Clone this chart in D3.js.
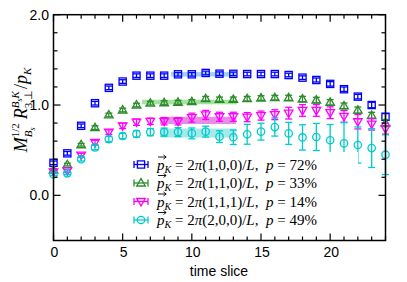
<!DOCTYPE html>
<html>
<head>
<meta charset="utf-8">
<script src="https://cdn.jsdelivr.net/npm/d3@7"></script>
<style>
  body { margin: 0; background: #fff; }
  svg { display: block; }
</style>
</head>
<body>
<div id="chart"></div>
<script>
var svgWidth = 407;
var svgHeight = 282;

// time slices
var tSlices = d3.range(0, 25);

// series values
var blueVals = [0.36, 0.465, 0.77, 1.02, 1.19, 1.26, 1.325, 1.325, 1.325, 1.34, 1.34, 1.355, 1.347, 1.345, 1.343, 1.343, 1.343, 1.332, 1.303, 1.277, 1.234, 1.175, 1.093, 1.0, 0.87];
var blueErr = [0.02, 0.02, 0.02, 0.02, 0.02, 0.02, 0.02, 0.02, 0.02, 0.02, 0.02, 0.02, 0.02, 0.02, 0.02, 0.02, 0.02, 0.02, 0.02, 0.022, 0.025, 0.025, 0.025, 0.03, 0.035];

var greenVals = [0.28, 0.34, 0.56, 0.75, 0.89, 0.945, 1.0, 1.02, 1.025, 1.03, 1.037, 1.07, 1.063, 1.063, 1.07, 1.078, 1.082, 1.08, 1.066, 1.055, 1.03, 0.99, 0.943, 0.884, 0.80];
var greenErr = [0.015, 0.015, 0.015, 0.02, 0.02, 0.02, 0.02, 0.02, 0.022, 0.022, 0.022, 0.025, 0.025, 0.025, 0.025, 0.025, 0.025, 0.028, 0.03, 0.03, 0.03, 0.032, 0.035, 0.035, 0.04];

var magentaVals = [0.26, 0.27, 0.446, 0.585, 0.70, 0.77, 0.81, 0.82, 0.82, 0.82, 0.86, 0.89, 0.87, 0.87, 0.866, 0.883, 0.893, 0.91, 0.94, 0.94, 0.915, 0.874, 0.815, 0.788, 0.738];
var magentaErr = [0.015, 0.015, 0.02, 0.025, 0.025, 0.03, 0.035, 0.035, 0.04, 0.04, 0.05, 0.05, 0.05, 0.05, 0.05, 0.05, 0.055, 0.065, 0.065, 0.065, 0.065, 0.065, 0.08, 0.065, 0.06];

var cyanVals = [0.232, 0.244, 0.40, 0.53, 0.623, 0.657, 0.68, 0.70, 0.70, 0.70, 0.686, 0.705, 0.65, 0.643, 0.676, 0.705, 0.756, 0.686, 0.641, 0.646, 0.61, 0.575, 0.557, 0.523, 0.45];
var cyanErr = [0.015, 0.015, 0.02, 0.025, 0.03, 0.03, 0.035, 0.04, 0.045, 0.05, 0.06, 0.06, 0.065, 0.08, 0.11, 0.093, 0.1, 0.122, 0.14, 0.15, 0.174, 0.23, 0.2, 0.215, 0.22];

// fit bands: [tStart, tEnd, centre, halfWidth]
var blueBand = [8.5, 13.2, 1.34, 0.025];
var greenBand = [6.4, 13.25, 1.033, 0.025];
var magentaBand = [7.7, 13.2, 0.83, 0.04];
var cyanBand = [7.7, 13.2, 0.69, 0.05];

var legendMom = ["(1,0,0)", "(1,1,0)", "(1,1,1)", "(2,0,0)"];
var legendP = ["72%", "33%", "14%", "49%"];

var xTicks = [0, 5, 10, 15, 20];
var yTicks = [0, 1, 2];

var series = [
    {vals: blueVals, err: blueErr, band: blueBand, color: "#0000ff", bandColor: "#8cc4ec", sym: "square"},
    {vals: greenVals, err: greenErr, band: greenBand, color: "#2b8c2b", bandColor: "#8edc86", sym: "up"},
    {vals: magentaVals, err: magentaErr, band: magentaBand, color: "#ff00ff", bandColor: "#e070e0", sym: "down"},
    {vals: cyanVals, err: cyanErr, band: cyanBand, color: "#00cccc", bandColor: "#90e4e4", sym: "circle"}
];

var plotLeft = 53.5, plotRight = 385.5, plotTop = 14.7, plotBottom = 240.5;

var svg = d3.select("#chart")
    .append("svg")
    .attr("width", svgWidth)
    .attr("height", svgHeight);

var xScale = d3.scaleLinear().domain([0, 24]).range([plotLeft, plotRight]);
var yScale = d3.scaleLinear().domain([-0.5, 2.0]).range([plotBottom, plotTop]);

// bands
series.forEach(function(s) {
    svg.append("rect")
        .attr("x", xScale(s.band[0]))
        .attr("width", xScale(s.band[1]) - xScale(s.band[0]))
        .attr("y", yScale(s.band[2] + s.band[3]))
        .attr("height", yScale(s.band[2] - s.band[3]) - yScale(s.band[2] + s.band[3]))
        .attr("fill", s.bandColor)
        .attr("opacity", 0.8);
});

function drawSymbol(g, sym, cx, cy, color) {
    if (sym === "square") {
        g.append("rect")
            .attr("x", cx - 3.6).attr("y", cy - 3.6)
            .attr("width", 7.2).attr("height", 7.2)
            .attr("fill", "none").attr("stroke", color).attr("stroke-width", 1.3);
    } else if (sym === "up") {
        g.append("path")
            .attr("d", `M${cx - 4.3},${cy + 3} L${cx + 4.3},${cy + 3} L${cx},${cy - 4.4} Z`)
            .attr("fill", "none").attr("stroke", color).attr("stroke-width", 1.3);
    } else if (sym === "down") {
        g.append("path")
            .attr("d", `M${cx - 4.3},${cy - 3} L${cx + 4.3},${cy - 3} L${cx},${cy + 4.4} Z`)
            .attr("fill", "none").attr("stroke", color).attr("stroke-width", 1.3);
    } else {
        g.append("circle")
            .attr("cx", cx).attr("cy", cy).attr("r", 3.7)
            .attr("fill", "none").attr("stroke", color).attr("stroke-width", 1.3);
    }
}

// data points with error bars
series.forEach(function(s) {
    var g = svg.append("g");
    tSlices.forEach(function(t, i) {
        var cx = xScale(t);
        var cy = yScale(s.vals[i]);
        var y1 = yScale(s.vals[i] + s.err[i]);
        var y2 = yScale(s.vals[i] - s.err[i]);
        g.append("line").attr("x1", cx).attr("x2", cx).attr("y1", y1).attr("y2", y2)
            .attr("stroke", s.color).attr("stroke-width", 1.3);
        g.append("line").attr("x1", cx - 3.5).attr("x2", cx + 3.5).attr("y1", y1).attr("y2", y1)
            .attr("stroke", s.color).attr("stroke-width", 1.3);
        g.append("line").attr("x1", cx - 3.5).attr("x2", cx + 3.5).attr("y1", y2).attr("y2", y2)
            .attr("stroke", s.color).attr("stroke-width", 1.3);
        drawSymbol(g, s.sym, cx, cy, s.color);
    });
});

// opaque legend box
svg.append("rect")
    .attr("x", 128).attr("y", 152)
    .attr("width", 230).attr("height", 86)
    .attr("fill", "#fff");

var legend = svg.append("g");
series.forEach(function(s, i) {
    var ly = 164.5 + i * 18.5;
    var lx = 141;
    legend.append("line").attr("x1", lx - 7).attr("x2", lx + 7).attr("y1", ly).attr("y2", ly)
        .attr("stroke", s.color).attr("stroke-width", 1.3);
    legend.append("line").attr("x1", lx - 7).attr("x2", lx - 7).attr("y1", ly - 3.5).attr("y2", ly + 3.5)
        .attr("stroke", s.color).attr("stroke-width", 1.3);
    legend.append("line").attr("x1", lx + 7).attr("x2", lx + 7).attr("y1", ly - 3.5).attr("y2", ly + 3.5)
        .attr("stroke", s.color).attr("stroke-width", 1.3);
    drawSymbol(legend, s.sym, lx, ly, s.color);

    var tx = 157, base = ly + 5;
    var txt = legend.append("text")
        .attr("x", tx).attr("y", base)
        .attr("font-family", "'Liberation Serif', 'Times New Roman', serif")
        .attr("font-size", 15)
        .attr("fill", "#000");
    txt.append("tspan").attr("font-style", "italic").text("p");
    txt.append("tspan").attr("font-style", "italic").attr("font-size", 10).attr("dy", 3).text("K");
    txt.append("tspan").attr("dy", -3).text(" = 2");
    txt.append("tspan").attr("font-style", "italic").text("π");
    txt.append("tspan").text(legendMom[i] + "/");
    txt.append("tspan").attr("font-style", "italic").text("L");
    txt.append("tspan").text(",\u00a0\u00a0");
    txt.append("tspan").attr("font-style", "italic").text("p");
    txt.append("tspan").text(" = " + legendP[i]);
    // vector arrow over p
    legend.append("path")
        .attr("d", `M${tx + 1},${base - 12.5} L${tx + 9},${base - 12.5} M${tx + 6.5},${base - 14.5} L${tx + 9.2},${base - 12.5} L${tx + 6.5},${base - 10.5}`)
        .attr("fill", "none").attr("stroke", "#000").attr("stroke-width", 0.9);
});

// frame
svg.append("rect")
    .attr("x", plotLeft).attr("y", plotTop)
    .attr("width", plotRight - plotLeft).attr("height", plotBottom - plotTop)
    .attr("fill", "none").attr("stroke", "#000").attr("stroke-width", 1.5);

// x ticks (inward, bottom and top)
var axes = svg.append("g").attr("stroke", "#000").attr("stroke-width", 1.2);
tSlices.forEach(function(t) {
    var major = xTicks.indexOf(t) >= 0;
    var len = major ? 7 : 4;
    axes.append("line").attr("x1", xScale(t)).attr("x2", xScale(t))
        .attr("y1", plotBottom).attr("y2", plotBottom - len);
    axes.append("line").attr("x1", xScale(t)).attr("x2", xScale(t))
        .attr("y1", plotTop).attr("y2", plotTop + len);
});
d3.range(0, 11).forEach(function(k) {
    var v = k * 0.2;
    var major = Math.abs(v - Math.round(v)) < 1e-6;
    var len = major ? 7 : 4;
    axes.append("line").attr("x1", plotLeft).attr("x2", plotLeft + len)
        .attr("y1", yScale(v)).attr("y2", yScale(v));
    axes.append("line").attr("x1", plotRight).attr("x2", plotRight - len)
        .attr("y1", yScale(v)).attr("y2", yScale(v));
});

// tick labels
var sans = "'Liberation Sans', Arial, Helvetica, sans-serif";
svg.append("g").selectAll("text")
    .data(xTicks)
    .enter()
    .append("text")
    .attr("x", d => xScale(d) + 1)
    .attr("y", 257)
    .attr("text-anchor", "middle")
    .attr("font-family", sans)
    .attr("font-size", 14)
    .text(d => d);

svg.append("g").selectAll("text")
    .data(yTicks)
    .enter()
    .append("text")
    .attr("x", 49)
    .attr("y", d => yScale(d) + 5)
    .attr("text-anchor", "end")
    .attr("font-family", sans)
    .attr("font-size", 14)
    .text(d => d.toFixed(1));

svg.append("text")
    .attr("x", 219)
    .attr("y", 276)
    .attr("text-anchor", "middle")
    .attr("font-family", sans)
    .attr("font-size", 14)
    .text("time slice");

// y label built piece by piece, rotated
var serif = "'Liberation Serif', 'Times New Roman', serif";
var yl = svg.append("g");
var cursor = 0;
function piece(str, size, dy, italic, advance) {
    var t = yl.append("text")
        .attr("x", cursor).attr("y", dy)
        .attr("font-family", serif)
        .attr("font-size", size)
        .attr("font-style", italic ? "italic" : "normal")
        .text(str);
    var w = t.node().getComputedTextLength();
    if (advance) cursor += w;
    return w;
}
piece("M", 18, 0, true, true);
var w1 = piece("1/2", 11, -8, false, false);
var startB = cursor;
var w2 = piece("B", 11, 5, true, false);
cursor = startB + w2;
var w3 = piece("s", 8, 8, true, false);
cursor = startB + Math.max(w1, w2 + w3) + 4;
piece("R", 18, 0, true, true);
var startR = cursor;
piece("B", 11, -8, true, true);
piece("s", 8, -5, true, true);
piece("K", 11, -8, true, true);
var supEnd = cursor;
cursor = startR;
piece("3,\u22a5", 11, 5, false, true);
cursor = Math.max(supEnd, cursor) + 1;
piece("/", 18, 0, false, true);
piece("p", 18, 0, true, true);
piece("K", 11, 4, true, true);
var totalW = cursor;
yl.attr("transform", `translate(27,${110 + totalW / 2}) rotate(-90)`);
</script>
</body>
</html>
